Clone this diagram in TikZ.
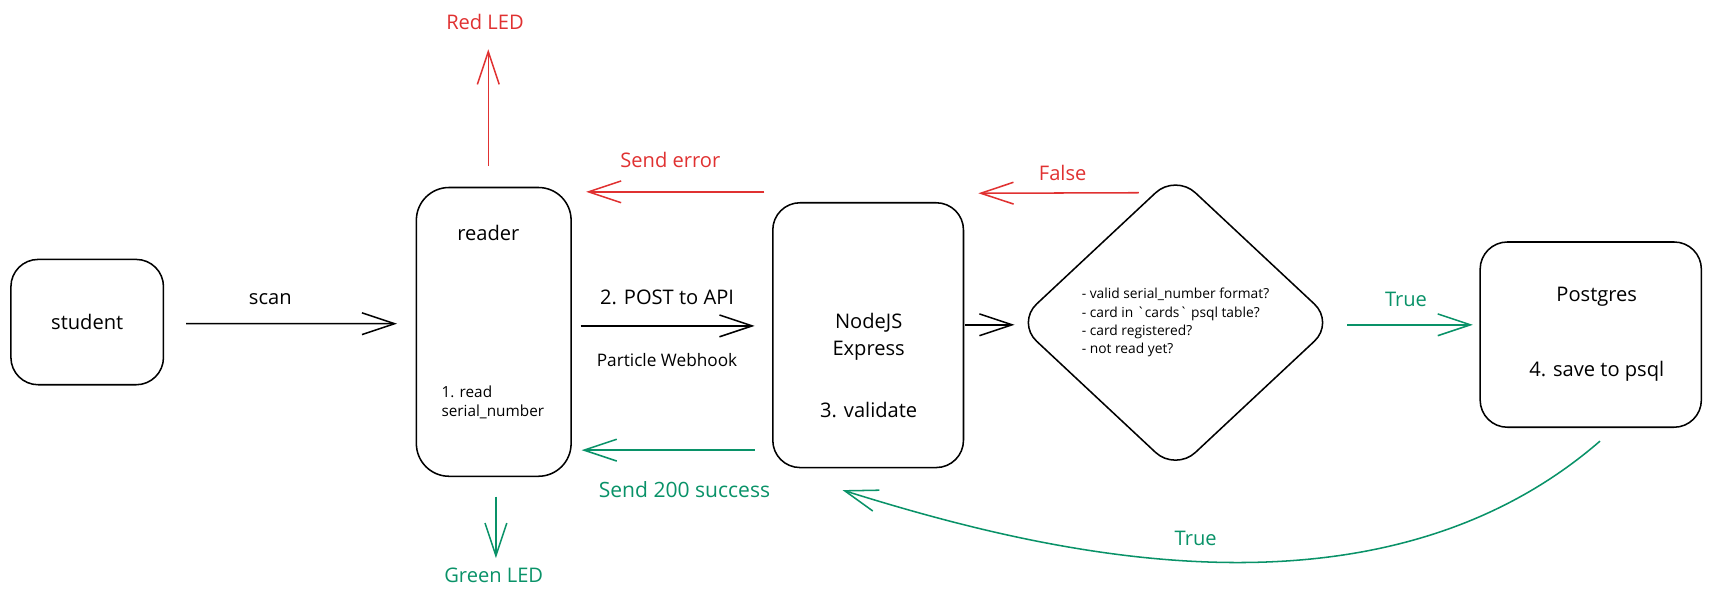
\documentclass[tikz,border=0pt]{standalone}
\usepackage{fontspec}
\setmainfont{Open Sans}
\usetikzlibrary{arrows.meta,shapes.geometric}
\definecolor{exred}{HTML}{E03131}
\definecolor{exgreen}{HTML}{099268}
\tikzset{
  box/.style={draw, line width=0.8pt, rounded corners=0.5cm},
  lbl/.style={font=\fontsize{10.5}{13.6}\selectfont, inner sep=1pt},
  arr/.style={line width=0.8pt, -{Straight Barb[length=0.6cm, width=0.4cm, line width=0.8pt]}},
}
\begin{document}
\begin{tikzpicture}[x=0.02cm, y=-0.02cm]
\useasboundingbox (0,0) rectangle (1568,548);
% boxes
\node[box, lbl, minimum width=2.8cm, minimum height=2.3cm] (student) at (80,295.5) {student};
\node[box, minimum width=2.84cm, minimum height=5.3cm, rounded corners=0.6cm] (reader) at (453,304.5) {};
\node[box, minimum width=3.5cm, minimum height=4.86cm] (nodejs) at (796.5,307.5) {};
\node[draw, diamond, line width=0.8pt, rounded corners=0.5cm, minimum width=5.84cm, minimum height=5.46cm, inner sep=0pt, align=left, font=\fontsize{7.2}{9.6}\selectfont] (check) at (1078.5,296) {- valid serial\_number format?\\- card in \textasciigrave cards\textasciigrave{} psql table?\\- card registered?\\- not read yet?};
\node[box, minimum width=4.06cm, minimum height=3.4cm] (pg) at (1459.5,307) {};
% box texts
\node[lbl] (readerlbl) at (448,214) {reader};
\node[lbl, anchor=west, align=left, font=\fontsize{8}{10.2}\selectfont] (readnum) at (403,369) {1. read\\serial\_number};
\node[lbl, align=center] (nodelbl) at (797,309) {NodeJS\\Express};
\node[lbl] (validate) at (797,376) {3. validate};
\node[lbl] (pglbl) at (1465,272) {Postgres};
\node[lbl] (save) at (1465,341) {4. save to psql};
% connector labels
\node[lbl] (scan) at (248,274) {scan};
\node[lbl, exred] (redled) at (445,20) {Red LED};
\node[lbl, exgreen] (greenled) at (453,528) {Green LED};
\node[lbl, exred] (senderr) at (615,147) {Send error};
\node[lbl] (post) at (612,273) {2. POST to API};
\node[lbl, font=\fontsize{9}{11}\selectfont] (webhook) at (612,330) {Particle Webhook};
\node[lbl, exgreen, font=\fontsize{11}{13.6}\selectfont] (send200) at (628,449) {Send 200 success};
\node[lbl, exred] (false) at (975,159) {False};
\node[lbl, exgreen] (true1) at (1290,275) {True};
\node[lbl, exgreen] (true2) at (1097,494) {True};
% connectors
\draw[arr] ([shift={(20,1.5)}]student.east) -- ([shift={(-17,-7.5)}]reader.west);
\draw[arr, exred] ([shift={(-5,-19)}]reader.north) -- ([shift={(3,16)}]redled.south);
\draw[arr, exgreen] ([shift={(2,18)}]reader.south) -- ([shift={(2,-7)}]greenled.north);
\draw[arr, exred] ([shift={(-7,-131.5)}]nodejs.west) -- ([shift={(13,-128.5)}]reader.east);
\draw[arr] ([shift={(8,-5.5)}]reader.east) -- ([shift={(-16,-8.5)}]nodejs.west);
\draw[arr, exgreen] ([shift={(-16,105.5)}]nodejs.west) -- ([shift={(9,108.5)}]reader.east);
\draw[arr] ([shift={(1,-9.5)}]nodejs.east) -- ([shift={(-1,2)}]check.west);
\draw[arr, exred] ([shift={(-33.5,18)}]check.north) -- ([shift={(13,-8)}]nodejs.north east);
\draw[arr, exgreen] ([shift={(11,2)}]check.east) -- ([shift={(-6,-9)}]pg.west);
\draw[arr, exgreen] ([shift={(8.5,12)}]pg.south) .. controls (1260,585) and (950,505) .. ([shift={(-23.5,20)}]nodejs.south);
\end{tikzpicture}
\end{document}
